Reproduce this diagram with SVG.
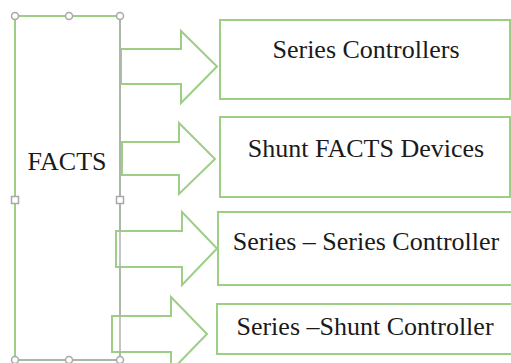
<svg xmlns="http://www.w3.org/2000/svg" width="511" height="363" viewBox="0 0 511 363">
<style>
.box{fill:#ffffff;stroke:#9ccf85;stroke-width:2}
.outline{fill:none;stroke:#9ccf85;stroke-width:2}
.label{fill:#1a1a1a;text-anchor:middle;font-family:'Liberation Serif',serif;font-size:26px}
.handle{fill:#ffffff;stroke:#a8a8a8;stroke-width:1.5}
.sel{stroke:#b0b0b0;stroke-width:1.5}
</style>
<rect width="511" height="363" fill="#ffffff"/>
<g id="facts">
<rect class="outline" x="15" y="16" width="105" height="344"/>
<text class="label" x="67" y="170">FACTS</text>
</g>
<g id="connectors">
<polygon class="box" points="121,49 181,49 181,31 217,66.5 181,103 181,84 121,84"/>
<polygon class="box" points="122,142 179,142 179,123 215,159 179,194 179,175 122,175"/>
<polygon class="box" points="116,231 182,231 182,212 217,248.5 182,285 182,267 116,267"/>
<polygon class="box" points="112,316 171,316 171,297 207,334 171,371 171,352 112,352"/>
</g>
<g id="facts-selection">
<line class="sel" x1="120" y1="16" x2="120" y2="360"/>
<line class="sel" x1="15" y1="360" x2="120" y2="360"/>
<circle class="handle" cx="15" cy="16" r="3.5"/>
<circle class="handle" cx="69" cy="16" r="3.5"/>
<circle class="handle" cx="120" cy="16" r="3.5"/>
<rect class="handle" x="11.5" y="196.5" width="7" height="7"/>
<rect class="handle" x="116.5" y="196.5" width="7" height="7"/>
<circle class="handle" cx="15" cy="360" r="3.5"/>
<circle class="handle" cx="69" cy="360" r="3.5"/>
<circle class="handle" cx="120" cy="360" r="3.5"/>
</g>
<g id="series">
<rect class="box" x="220" y="20" width="290" height="79"/>
<text class="label" x="366" y="58">Series Controllers</text>
</g>
<g id="shunt">
<rect class="box" x="220" y="117" width="290" height="80"/>
<text class="label" x="366" y="157">Shunt FACTS Devices</text>
</g>
<g id="series-series">
<rect class="box" x="218" y="212" width="300" height="73"/>
<text class="label" x="366" y="250">Series – Series Controller</text>
</g>
<g id="series-shunt">
<rect class="box" x="217" y="304" width="300" height="50"/>
<text class="label" x="365" y="335">Series –Shunt Controller</text>
</g>
</svg>
